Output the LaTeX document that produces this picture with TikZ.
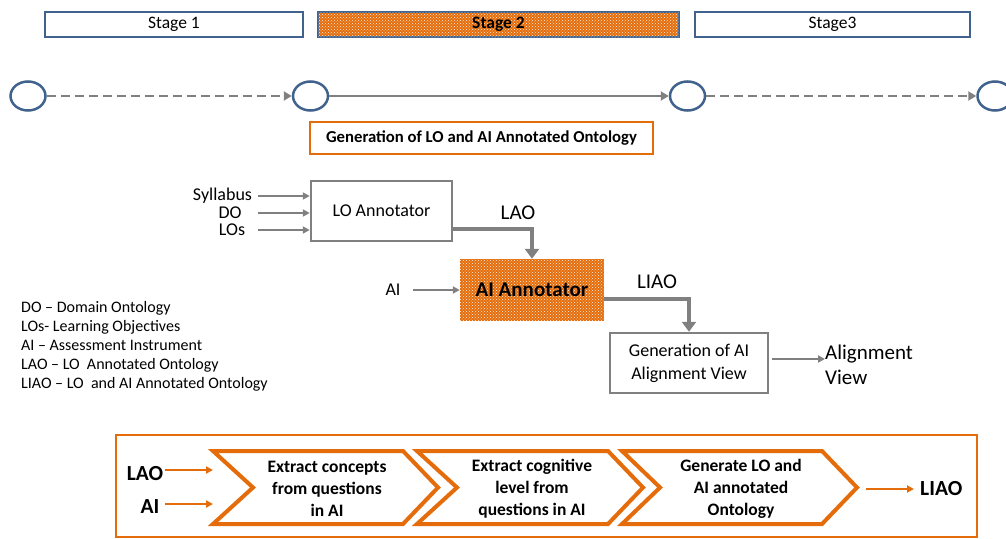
\documentclass[tikz,border=0pt]{standalone}
\usepackage{fontspec}
\setmainfont{Carlito}
\usetikzlibrary{shapes.geometric,patterns,arrows.meta}
\definecolor{org}{RGB}{228,108,10}
\definecolor{blu}{RGB}{65,98,140}
\definecolor{gry}{RGB}{128,128,128}
\begin{document}
\begin{tikzpicture}[x=1pt,y=-1pt,
  stagebox/.style={draw=blu,line width=2.5pt,minimum height=25pt,inner sep=0pt,font=\fontsize{17.5}{20}\selectfont},
  dotted fill/.style={fill=org,postaction={pattern=crosshatch dots,pattern color=white!90!org}},
  circ/.style={draw=blu,ellipse,line width=2.5pt,minimum width=35pt,minimum height=29pt,inner sep=0pt},
  tl/.style={draw=gry,line width=2.5pt,-{Triangle[length=8pt,width=9pt]}},
  tldash/.style={tl,dash pattern=on 9pt off 5pt},
  graybox/.style={draw=gry,line width=2.5pt,fill=white,inner sep=0pt,align=center,font=\fontsize{18}{23}\selectfont},
  inarr/.style={draw=gry,line width=1.8pt,-{Triangle[length=7pt,width=7pt]}},
  thick arr/.style={draw=gry,line width=4pt,-{Triangle[length=10pt,width=14pt]}},
  lbl/.style={inner sep=0pt,font=\fontsize{18}{20}\selectfont},
  biglbl/.style={inner sep=0pt,font=\fontsize{21}{24}\selectfont},
  chev/.style={draw=org,line width=4pt,line join=miter,fill=white},
  chevtext/.style={align=center,inner sep=0pt,font=\fontsize{17.5}{22}\selectfont\bfseries},
  oarr/.style={draw=org,line width=2pt,-{Triangle[length=7pt,width=7pt]}},
  olbl/.style={inner sep=0pt,font=\fontsize{21.5}{24}\selectfont\bfseries}
]
\useasboundingbox (0,0) rectangle (1006,538);

% stage bar
\node[stagebox,minimum width=258pt] (s1) at (174,24.5) {Stage 1};
\node[stagebox,minimum width=361pt,dotted fill] (s2) at (498.5,24.5) {\bfseries Stage 2};
\node[stagebox,minimum width=275pt] (s3) at (832.5,24.5) {Stage3};

% timeline
\node[circ] (c1) at (28,96) {};
\node[circ] (c2) at (310.5,96) {};
\node[circ] (c3) at (687.5,96) {};
\node[circ] (c4) at (995,96) {};
\draw[tldash] (c1) -- (c2);
\draw[tl] (c2) -- (c3);
\draw[tldash] (c3) -- (c4);

\node[draw=org,line width=2.5pt,minimum width=343pt,minimum height=32pt,inner sep=0pt,font=\fontsize{16.7}{19}\selectfont\bfseries] (gen) at (481.5,138) {Generation of LO and AI Annotated Ontology};

% LO annotator
\node[graybox,minimum width=141pt,minimum height=60pt] (loa) at (381.5,211) {LO Annotator};
\node[lbl] (syl) at (222.5,196) {Syllabus};
\node[lbl] (do) at (230,213) {DO};
\node[lbl] (los) at (232,230) {LOs};
\coordinate (syle) at (258,196);
\coordinate (doe) at (258,213);
\coordinate (lose) at (258,230);
\draw[inarr] (syle) -- (syle -| loa.west);
\draw[inarr] (doe) -- (doe -| loa.west);
\draw[inarr] (lose) -- (lose -| loa.west);

% AI annotator
\node[minimum width=144pt,minimum height=62pt,inner sep=0pt,dotted fill,font=\fontsize{21}{24}\selectfont\bfseries] (aia) at (532,290) {AI Annotator};
\node[lbl] (ai) at (393,290) {AI};
\coordinate (aie) at (413,290);
\draw[inarr] (aie) -- (aia.west);

\coordinate (loout) at (452,229);
\draw[thick arr] (loout) -| (aia.north);
\node[biglbl] (lao) at (518,213) {LAO};

% Generation of AI alignment view
\node[graybox,minimum width=158pt,minimum height=60pt] (gav) at (689,363) {Generation of AI\\Alignment View};
\coordinate (aiout) at (604,299);
\draw[thick arr] (aiout) -| (gav.north);
\node[biglbl] (liao) at (657,282) {LIAO};

\node[biglbl,anchor=west,align=left,font=\fontsize{21}{25}\selectfont] (av) at (825,365) {Alignment\\View};
\coordinate (gavout) at (772,359);
\draw[inarr] (gavout) -- (gavout -| av.west);

% legend
\node[anchor=north west,align=left,inner sep=0pt,font=\fontsize{16}{19}\selectfont] (legend) at (21,301)
  {DO -- Domain Ontology\\LOs- Learning Objectives\\AI -- Assessment Instrument\\LAO -- LO\ \ Annotated Ontology\\LIAO -- LO\ \ and AI Annotated Ontology};

% bottom process
\draw[draw=org,line width=2pt] (116,435) rectangle (977,537);
\draw[chev] (213,451) -- (403,451) -- (438,487.5) -- (403,524) -- (213,524) -- (253,487.5) -- cycle;
\draw[chev] (417,451) -- (608,451) -- (643,487.5) -- (608,524) -- (417,524) -- (457,487.5) -- cycle;
\draw[chev] (622,451) -- (822,451) -- (857,487.5) -- (822,524) -- (622,524) -- (660,487.5) -- cycle;
\node[chevtext] (k1) at (327,489) {Extract concepts\\from questions\\in AI};
\node[chevtext] (k2) at (532,489) {Extract cognitive\\level from\\questions in AI};
\node[chevtext] (k3) at (741,489) {Generate LO and\\AI annotated\\Ontology};

\node[olbl] (blao) at (145,474) {LAO};
\node[olbl] (bai) at (150,507) {AI};
\coordinate (blaoe) at (165,470);
\coordinate (blaot) at (213,470);
\coordinate (baie) at (165,504);
\coordinate (bait) at (213,504);
\draw[oarr] (blaoe) -- (blaot);
\draw[oarr] (baie) -- (bait);
\node[olbl,anchor=west] (bliao) at (920,489) {LIAO};
\coordinate (bout) at (866,489);
\draw[oarr,shorten >=6pt] (bout) -- (bliao.west);
\end{tikzpicture}
\end{document}
